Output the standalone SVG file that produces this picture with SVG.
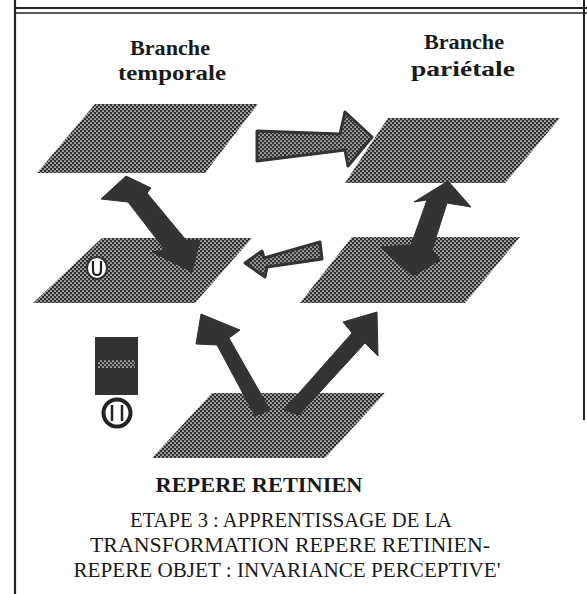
<svg xmlns="http://www.w3.org/2000/svg" width="587" height="594" viewBox="0 0 587 594">
<defs>
<pattern id="dots" width="4" height="4" patternUnits="userSpaceOnUse">
<rect width="4" height="4" fill="#2f2f2f"/>
<circle cx="1" cy="1" r="0.85" fill="#ffffff"/>
<circle cx="3" cy="3" r="0.85" fill="#ffffff"/>
</pattern>
<pattern id="dots2" width="4" height="4" patternUnits="userSpaceOnUse">
<rect width="4" height="4" fill="#333333"/>
<circle cx="1" cy="1" r="0.85" fill="#eeeeee"/>
<circle cx="3" cy="3" r="0.85" fill="#eeeeee"/>
</pattern>
</defs>
<style>
.plate{fill:url(#dots);}
.big{fill:#333333;stroke:#333333;stroke-width:1;stroke-linejoin:round;}
.hatch{fill:url(#dots2);stroke:#333333;stroke-width:3;stroke-linejoin:round;}
.lbl{font-family:"Liberation Serif","Times New Roman",serif;font-weight:bold;font-size:22px;fill:#1a1a1a;text-anchor:middle;}
.cap{font-family:"Liberation Serif","Times New Roman",serif;font-size:21px;fill:#1a1a1a;text-anchor:middle;}
.frame{stroke:#222;fill:none;}
</style>
<rect width="587" height="594" fill="#ffffff"/>
<g id="frame">
<line class="frame" x1="15" y1="0" x2="15" y2="594" stroke-width="2.2"/>
<line class="frame" x1="584" y1="0" x2="584" y2="420" stroke-width="2"/>
<line class="frame" x1="15" y1="8" x2="587" y2="8" stroke-width="2"/>
<line class="frame" x1="15" y1="13" x2="587" y2="13" stroke-width="1.5"/>
</g>
<g id="plate-temporale">
<polygon class="plate" points="95,104 258,104 205,173 37,173"/>
<text class="lbl" x="170" y="55" textLength="80" lengthAdjust="spacingAndGlyphs">Branche</text>
<text class="lbl" x="172" y="80" textLength="108" lengthAdjust="spacingAndGlyphs">temporale</text>
</g>
<g id="plate-parietale">
<polygon class="plate" points="388,118 560,118 505,183 345,183"/>
<text class="lbl" x="464" y="49" textLength="80" lengthAdjust="spacingAndGlyphs">Branche</text>
<text class="lbl" x="463" y="76" textLength="104" lengthAdjust="spacingAndGlyphs">pariétale</text>
</g>
<g id="plate-objet-gauche">
<polygon class="plate" points="102,238 252,238 195,303 33,303"/>
<ellipse cx="97" cy="268" rx="10" ry="11" fill="#ffffff" stroke="#333" stroke-width="2"/>
<path d="M93,261 V270 Q93,275 97,275 Q101,275 101,270 V261" fill="none" stroke="#222" stroke-width="2.2"/>
</g>
<g id="plate-objet-droite">
<polygon class="plate" points="352,237 520,237 465,303 300,303"/>
</g>
<g id="plate-retinien">
<polygon class="plate" points="212,393 385,393 325,458 152,458"/>
<text class="lbl" x="259" y="492" textLength="207" lengthAdjust="spacingAndGlyphs">REPERE RETINIEN</text>
</g>
<g id="objet-icone">
<rect x="95" y="337" width="43" height="58" fill="#333333"/>
<rect x="98" y="360" width="37" height="8" fill="url(#dots2)"/>
<circle cx="117" cy="413" r="13.5" fill="#ffffff" stroke="#222" stroke-width="4"/>
<path d="M112,405 V421 M122,405 V421" stroke="#222" stroke-width="2.5"/>
</g>
<g id="connecteurs">
<polygon class="big" points="126,176 151,188 147,193 186,240 200,240 192,272 152,252 165,250 128,202 101,199"/>
<polygon class="big" points="448,181 471,207 447,203 432,250 440,260 413,276 380,247 411,245 427,200 414,202"/>
<polygon class="big" points="201,314 240,330 229,338 270,410 255,416 217,345 196,344"/>
<polygon class="big" points="377,312 378,356 365,343 299,415 284,410 352,333 343,322"/>
<polygon class="hatch" points="257,131 340,134 345,112 372,137 348,166 345,150 257,161"/>
<polygon class="hatch" points="245,263 262,251 264,258 320,242 322,259 267,267 265,277"/>
</g>
<g id="legende">
<text class="cap" x="291" y="527" textLength="322" lengthAdjust="spacingAndGlyphs">ETAPE 3 : APPRENTISSAGE DE LA</text>
<text class="cap" x="290" y="552" textLength="400" lengthAdjust="spacingAndGlyphs">TRANSFORMATION REPERE RETINIEN-</text>
<text class="cap" x="287" y="577" textLength="427" lengthAdjust="spacingAndGlyphs">REPERE OBJET : INVARIANCE PERCEPTIVE'</text>
</g>
</svg>
